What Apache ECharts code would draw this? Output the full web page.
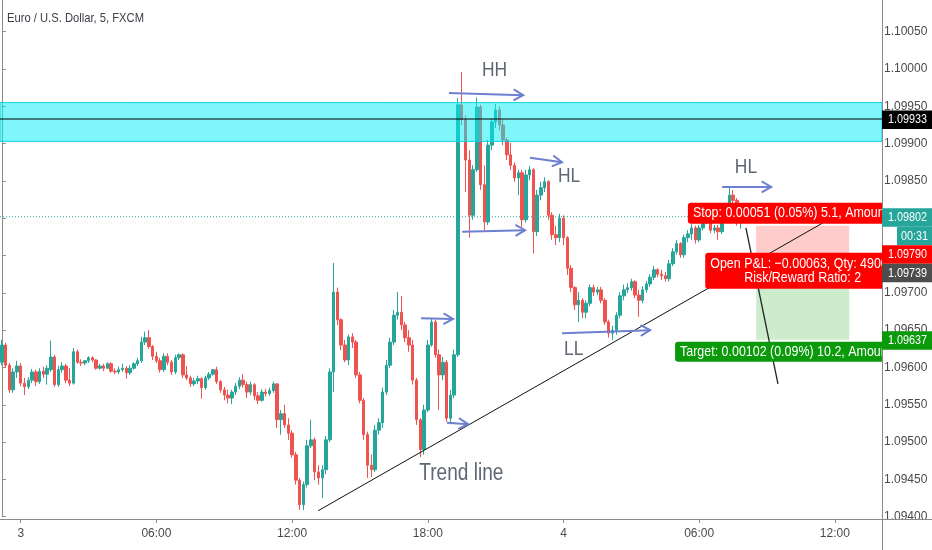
<!DOCTYPE html>
<html>
<head>
<meta charset="utf-8">
<script src="https://cdn.jsdelivr.net/npm/echarts@6/dist/echarts.min.js"></script>
<style>
html,body{margin:0;padding:0;background:#ffffff;overflow:hidden}
#chart{width:932px;height:550px}
</style>
</head>
<body>
<div id="chart"></div>
<script>
// ---------------- data ----------------
const chartTitle = 'Euro / U.S. Dollar, 5, FXCM';
const firstBarDay = 2;
const firstBarMinute = 23 * 60 + 10;
const barMinutes = 10;
const totalBars = 234;
const tickTimes = ['00:00', '06:00', '12:00', '18:00'];

const openPrices = [
1.09607,1.09630,1.09603,1.09570,1.09594,1.09602,1.09579,1.09574,1.09583,1.09594,
1.09581,1.09595,1.09591,1.09597,1.09614,1.09577,1.09597,1.09602,1.09583,1.09579,
1.09621,1.09607,1.09606,1.09609,1.09613,1.09610,1.09599,1.09602,1.09599,1.09605,
1.09595,1.09594,1.09597,1.09599,1.09593,1.09599,1.09605,1.09609,1.09634,1.09640,
1.09628,1.09615,1.09609,1.09597,1.09615,1.09607,1.09594,1.09613,1.09617,1.09590,
1.09586,1.09578,1.09582,1.09585,1.09573,1.09586,1.09591,1.09597,1.09581,1.09570,
1.09563,1.09559,1.09567,1.09575,1.09583,1.09577,1.09567,1.09577,1.09562,1.09556,
1.09567,1.09565,1.09569,1.09578,1.09530,1.09538,1.09523,1.09512,1.09483,1.09449,
1.09416,1.09443,1.09495,1.09503,1.09460,1.09452,1.09463,1.09503,1.09594,1.09701,
1.09664,1.09630,1.09610,1.09641,1.09634,1.09590,1.09556,1.09510,1.09469,1.09463,
1.09516,1.09526,1.09567,1.09603,1.09634,1.09670,1.09674,1.09657,1.09640,1.09630,
1.09583,1.09530,1.09490,1.09543,1.09630,1.09661,1.09617,1.09590,1.09607,1.09532,
1.09563,1.09617,1.09952,1.09932,1.09878,1.09804,1.09865,1.09949,1.09845,1.09795,
1.09898,1.09929,1.09945,1.09925,1.09905,1.09885,1.09871,1.09854,1.09861,1.09798,
1.09858,1.09865,1.09782,1.09831,1.09841,1.09849,1.09804,1.09778,1.09774,1.09800,
1.09774,1.09733,1.09707,1.09684,1.09690,1.09674,1.09686,1.09707,1.09701,1.09704,
1.09690,1.09661,1.09646,1.09650,1.09670,1.09696,1.09704,1.09707,1.09715,1.09697,
1.09690,1.09704,1.09712,1.09721,1.09731,1.09725,1.09723,1.09719,1.09739,1.09755,
1.09766,1.09751,1.09774,1.09779,1.09787,1.09771,1.09787,1.09796,1.09800,1.09784,
1.09787,1.09782,1.09798,1.09815,1.09831,1.09824,1.09795];

const closePrices = [
1.09630,1.09603,1.09570,1.09594,1.09602,1.09579,1.09574,1.09583,1.09594,1.09581,
1.09595,1.09591,1.09599,1.09614,1.09577,1.09597,1.09602,1.09583,1.09579,1.09621,
1.09607,1.09606,1.09609,1.09613,1.09610,1.09599,1.09602,1.09599,1.09605,1.09595,
1.09594,1.09597,1.09599,1.09593,1.09599,1.09605,1.09609,1.09634,1.09640,1.09628,
1.09615,1.09609,1.09597,1.09615,1.09607,1.09594,1.09613,1.09617,1.09590,1.09586,
1.09578,1.09582,1.09585,1.09573,1.09586,1.09591,1.09597,1.09581,1.09570,1.09563,
1.09559,1.09567,1.09575,1.09583,1.09577,1.09567,1.09577,1.09562,1.09556,1.09567,
1.09565,1.09569,1.09578,1.09530,1.09538,1.09523,1.09512,1.09483,1.09449,1.09416,
1.09443,1.09495,1.09503,1.09460,1.09452,1.09463,1.09503,1.09594,1.09701,1.09664,
1.09630,1.09610,1.09641,1.09634,1.09590,1.09556,1.09510,1.09469,1.09463,1.09516,
1.09526,1.09567,1.09603,1.09634,1.09670,1.09674,1.09657,1.09640,1.09630,1.09583,
1.09530,1.09490,1.09543,1.09630,1.09661,1.09617,1.09590,1.09607,1.09532,1.09563,
1.09617,1.09952,1.09932,1.09878,1.09804,1.09865,1.09949,1.09845,1.09795,1.09898,
1.09929,1.09945,1.09925,1.09905,1.09885,1.09871,1.09854,1.09861,1.09798,1.09858,
1.09865,1.09782,1.09831,1.09841,1.09849,1.09804,1.09778,1.09774,1.09800,1.09774,
1.09733,1.09707,1.09684,1.09690,1.09674,1.09686,1.09707,1.09701,1.09704,1.09690,
1.09661,1.09646,1.09650,1.09670,1.09696,1.09704,1.09707,1.09715,1.09697,1.09690,
1.09704,1.09712,1.09721,1.09731,1.09725,1.09723,1.09719,1.09739,1.09755,1.09766,
1.09751,1.09774,1.09779,1.09787,1.09771,1.09787,1.09796,1.09800,1.09784,1.09787,
1.09782,1.09798,1.09815,1.09831,1.09824,1.09795,1.09802];

const lowPrices = [
1.09603,1.09599,1.09566,1.09566,1.09586,1.09575,1.09563,1.09571,1.09579,1.09575,
1.09578,1.09586,1.09577,1.09594,1.09574,1.09574,1.09593,1.09579,1.09575,1.09577,
1.09605,1.09602,1.09603,1.09606,1.09607,1.09597,1.09597,1.09595,1.09598,1.09593,
1.09591,1.09591,1.09594,1.09585,1.09590,1.09597,1.09602,1.09606,1.09630,1.09625,
1.09610,1.09606,1.09593,1.09594,1.09603,1.09590,1.09591,1.09610,1.09586,1.09583,
1.09574,1.09575,1.09578,1.09558,1.09570,1.09583,1.09589,1.09578,1.09566,1.09556,
1.09552,1.09551,1.09563,1.09571,1.09573,1.09559,1.09563,1.09556,1.09551,1.09554,
1.09561,1.09562,1.09566,1.09519,1.09510,1.09519,1.09503,1.09479,1.09443,1.09409,
1.09409,1.09439,1.09492,1.09449,1.09443,1.09425,1.09457,1.09500,1.09567,1.09657,
1.09623,1.09607,1.09603,1.09626,1.09586,1.09552,1.09503,1.09452,1.09453,1.09460,
1.09510,1.09519,1.09563,1.09599,1.09630,1.09664,1.09650,1.09634,1.09621,1.09577,
1.09523,1.09480,1.09483,1.09540,1.09628,1.09613,1.09543,1.09583,1.09527,1.09524,
1.09559,1.09614,1.09925,1.09835,1.09774,1.09798,1.09862,1.09838,1.09784,1.09791,
1.09891,1.09921,1.09918,1.09898,1.09878,1.09865,1.09849,1.09831,1.09788,1.09794,
1.09851,1.09753,1.09776,1.09824,1.09835,1.09798,1.09771,1.09764,1.09768,1.09764,
1.09724,1.09701,1.09677,1.09661,1.09666,1.09666,1.09682,1.09696,1.09697,1.09686,
1.09657,1.09640,1.09637,1.09644,1.09666,1.09690,1.09700,1.09703,1.09693,1.09668,
1.09686,1.09700,1.09708,1.09717,1.09721,1.09717,1.09715,1.09715,1.09736,1.09751,
1.09747,1.09747,1.09768,1.09771,1.09766,1.09768,1.09784,1.09792,1.09780,1.09780,
1.09771,1.09779,1.09795,1.09812,1.09818,1.09790,1.09786];

const highPrices = [
1.09637,1.09633,1.09606,1.09599,1.09609,1.09606,1.09586,1.09587,1.09598,1.09597,
1.09599,1.09601,1.09603,1.09636,1.09617,1.09602,1.09607,1.09605,1.09599,1.09626,
1.09624,1.09611,1.09610,1.09615,1.09615,1.09611,1.09605,1.09605,1.09607,1.09607,
1.09599,1.09601,1.09605,1.09602,1.09603,1.09607,1.09613,1.09641,1.09648,1.09650,
1.09630,1.09621,1.09613,1.09619,1.09619,1.09610,1.09617,1.09619,1.09619,1.09602,
1.09589,1.09586,1.09589,1.09587,1.09589,1.09594,1.09598,1.09601,1.09583,1.09574,
1.09570,1.09570,1.09579,1.09587,1.09591,1.09581,1.09581,1.09579,1.09567,1.09571,
1.09571,1.09573,1.09581,1.09579,1.09543,1.09550,1.09532,1.09516,1.09487,1.09452,
1.09447,1.09503,1.09530,1.09506,1.09469,1.09469,1.09508,1.09599,1.09740,1.09707,
1.09666,1.09637,1.09644,1.09646,1.09637,1.09594,1.09559,1.09514,1.09483,1.09523,
1.09532,1.09573,1.09610,1.09640,1.09677,1.09701,1.09696,1.09661,1.09650,1.09637,
1.09586,1.09532,1.09550,1.09637,1.09666,1.09664,1.09624,1.09614,1.09610,1.09570,
1.09624,1.09961,1.09996,1.09938,1.09891,1.09871,1.09962,1.09952,1.09871,1.09905,
1.09934,1.09953,1.09950,1.09932,1.09908,1.09901,1.09875,1.09865,1.09865,1.09865,
1.09870,1.09867,1.09838,1.09849,1.09855,1.09851,1.09808,1.09790,1.09806,1.09804,
1.09776,1.09737,1.09709,1.09701,1.09693,1.09690,1.09711,1.09711,1.09708,1.09708,
1.09693,1.09664,1.09656,1.09674,1.09701,1.09711,1.09713,1.09719,1.09717,1.09704,
1.09709,1.09716,1.09725,1.09736,1.09733,1.09731,1.09728,1.09744,1.09760,1.09771,
1.09768,1.09778,1.09784,1.09792,1.09790,1.09791,1.09800,1.09806,1.09803,1.09791,
1.09791,1.09802,1.09819,1.09842,1.09838,1.09827,1.09806];

// horizontal levels
const zoneTop = 1.09955;
const zoneBottom = 1.09903;
const levelLine = 1.09933;
const lastPrice = 1.09802;
const countdownText = '00:31';

// position tool
const entryPrice = 1.09739;
const stopPrice = 1.09790;
const targetPrice = 1.09637;
const positionBars = [200.1, 224.8];
const stopText = 'Stop: 0.00051 (0.05%) 5.1, Amount: 1000';
const pnlText = 'Open P&L: \u22120.00063, Qty: 4900';
const ratioText = 'Risk/Reward Ratio: 2';
const targetText = 'Target: 0.00102 (0.09%) 10.2, Amount: 1000';
const labelLeftBars = [182.0, 186.6, 178.6];

// drawn lines (bar index, price)
const trendBars = [83.9, 217.9];
const trendPrices = [1.09408, 1.09794];
const projectionBars = [197.4, 205.9];
const projectionPrices = [1.09787, 1.09578];

// arrows
const arrowFromBars = [118.6, 140.1, 122.1, 111.2, 118.1, 148.6, 191.1];
const arrowFromPrices = [1.09968, 1.09881, 1.09782, 1.09666, 1.09526, 1.09646, 1.09842];
const arrowToBars = [138.3, 148.6, 138.8, 119.7, 123.7, 172.0, 204.1];
const arrowToPrices = [1.09965, 1.09875, 1.09784, 1.09665, 1.09524, 1.09650, 1.09842];

// text notes
const noteTexts = ['HH', 'HL', 'LL', 'HL', 'Trend line'];
const noteBars = [130.7, 150.5, 151.7, 197.4, 121.9];
const notePrices = [1.09998, 1.09856, 1.09624, 1.09868, 1.09458];

// ---------------- styles ----------------
const FONT = "'Liberation Sans','Arial',sans-serif";
const NARROW = 0.83;               // horizontal squeeze of the source screenshot's lettering
const UP = '#26a69a', DOWN = '#ef5350';
const AXIS_COLOR = '#8a8a8a';
const LABEL_COLOR = '#4a4a4a';
const ARROW_COLOR = '#6d7fd0';
const NOTE_COLOR = '#5f6775';
const noteFontSizes = [21, 21, 21, 21, 23];

// ---------------- build ----------------
const pad2 = n => String(n).padStart(2, '0');
const categories = [];
for (let i = 0; i < totalBars; i++) {
  const m = firstBarMinute + i * barMinutes;
  const day = firstBarDay + Math.floor(m / 1440);
  const mm = m % 1440;
  categories.push(day + ' ' + pad2(Math.floor(mm / 60)) + ':' + pad2(mm % 60));
}
const isTick = (idx, val) => tickTimes.indexOf(String(val).split(' ')[1]) >= 0;
const fmtTick = val => { const parts = String(val).split(' '); return parts[1] === '00:00' ? parts[0] : parts[1]; };

const candles = openPrices.map((o, i) => [o, closePrices[i], lowPrices[i], highPrices[i]]);

const chart = echarts.init(document.getElementById('chart'), null, { renderer: 'canvas' });

function rectRender(fills, strokes) {
  return function (params, api) {
    const a = api.coord([api.value(0), api.value(2)]);
    const b = api.coord([api.value(1), api.value(3)]);
    return {
      type: 'rect',
      shape: { x: a[0], y: a[1], width: b[0] - a[0], height: b[1] - a[1] },
      style: { fill: fills[params.dataIndex], stroke: strokes ? strokes[params.dataIndex] : null, lineWidth: 1 }
    };
  };
}

function textEl(x, y, text, font, fill, align) {
  return {
    type: 'text', x: x, y: y, scaleX: NARROW, scaleY: 1,
    style: { text: text, fill: fill, font: font, align: align, verticalAlign: 'middle', textAlign: align, textVerticalAlign: 'middle' }
  };
}

const labelDefs = [
  { price: stopPrice, bg: '#ff0000', top: -23, h: 21 },
  { price: entryPrice, bg: '#ff0000', top: -11, h: 36 },
  { price: targetPrice, bg: '#0a9a0a', top: 2, h: 20 }
];
const labelTexts = [[stopText], [pnlText, ratioText], [targetText]];
const positionCenterBar = (positionBars[0] + positionBars[1]) / 2;

const option = {
  animation: false,
  backgroundColor: '#ffffff',
  grid: { left: 0, right: 50, top: -5.6, bottom: 33.3, containLabel: false, outerBoundsMode: 'none' },
  xAxis: [
    {
      type: 'category', data: categories, boundaryGap: true, position: 'bottom', offset: 2.3,
      axisLine: { show: true, lineStyle: { color: AXIS_COLOR, width: 1 } },
      axisTick: { show: true, alignWithLabel: true, length: 4, interval: isTick, lineStyle: { color: AXIS_COLOR } },
      axisLabel: { interval: isTick, formatter: fmtTick, color: LABEL_COLOR, fontFamily: FONT, fontSize: 12, margin: 9, hideOverlap: false },
      splitLine: { show: false }
    },
    { type: 'value', min: -0.5, max: totalBars - 0.5, show: false, position: 'top' }
  ],
  yAxis: {
    type: 'value', position: 'right', min: 1.094, max: 1.101, interval: 0.0005, scale: true,
    axisLine: { show: true, lineStyle: { color: AXIS_COLOR, width: 1 } },
    axisTick: { show: true, length: 4, inside: false, lineStyle: { color: AXIS_COLOR } },
    axisLabel: { formatter: v => v.toFixed(5), color: LABEL_COLOR, fontFamily: FONT, fontSize: 12, margin: 2, showMaxLabel: false, showMinLabel: true, hideOverlap: false },
    splitLine: { show: false }
  },
  series: [
    { // last price dotted line
      type: 'line', xAxisIndex: 1, yAxisIndex: 0, z: 1, silent: true, symbol: 'none',
      data: [[-0.5, lastPrice], [totalBars - 0.5, lastPrice]],
      lineStyle: { color: UP, width: 1, type: [1, 2] }
    },
    { // position zones
      type: 'custom', xAxisIndex: 1, yAxisIndex: 0, z: 2, silent: true, clip: true,
      data: [[positionBars[0], positionBars[1], stopPrice, entryPrice], [positionBars[0], positionBars[1], entryPrice, targetPrice]],
      renderItem: rectRender(['rgba(255,0,0,0.2)', 'rgba(0,160,0,0.2)'])
    },
    {
      type: 'candlestick', xAxisIndex: 0, yAxisIndex: 0, z: 3, data: candles, barWidth: '80%',
      itemStyle: { color: UP, color0: DOWN, borderColor: UP, borderColor0: DOWN, borderWidth: 1 }
    },
    { // supply zone
      type: 'custom', xAxisIndex: 1, yAxisIndex: 0, z: 4, silent: true, clip: true,
      data: [[-0.5, totalBars - 0.5, zoneTop, zoneBottom]],
      renderItem: rectRender(['rgba(0,240,245,0.5)'], ['rgba(0,205,225,0.9)'])
    },
    { // level line
      type: 'line', xAxisIndex: 1, yAxisIndex: 0, z: 5, silent: true, symbol: 'none',
      data: [[-0.5, levelLine], [totalBars - 0.5, levelLine]],
      lineStyle: { color: '#000000', width: 1 }
    },
    { // trend line
      type: 'line', xAxisIndex: 1, yAxisIndex: 0, z: 6, silent: true, symbol: 'none',
      data: trendBars.map((b, i) => [b, trendPrices[i]]),
      lineStyle: { color: '#111111', width: 1 }
    },
    { // projection line
      type: 'line', xAxisIndex: 1, yAxisIndex: 0, z: 6, silent: true, symbol: 'none',
      data: projectionBars.map((b, i) => [b, projectionPrices[i]]),
      lineStyle: { color: '#222222', width: 1.3 }
    },
    { // arrows
      type: 'custom', xAxisIndex: 1, yAxisIndex: 0, z: 7, silent: true,
      data: arrowFromBars.map((b, i) => [b, arrowFromPrices[i], arrowToBars[i], arrowToPrices[i]]),
      renderItem: function (params, api) {
        const p1 = api.coord([api.value(0), api.value(1)]);
        const p2 = api.coord([api.value(2), api.value(3)]);
        const ang = Math.atan2(p2[1] - p1[1], p2[0] - p1[0]);
        const L = 11, A = 0.52;
        const h1 = [p2[0] - L * Math.cos(ang - A), p2[1] - L * Math.sin(ang - A)];
        const h2 = [p2[0] - L * Math.cos(ang + A), p2[1] - L * Math.sin(ang + A)];
        return {
          type: 'group', children: [
            { type: 'line', shape: { x1: p1[0], y1: p1[1], x2: p2[0], y2: p2[1] }, style: { stroke: ARROW_COLOR, lineWidth: 2 } },
            { type: 'polyline', shape: { points: [h1, p2, h2] }, style: { stroke: ARROW_COLOR, lineWidth: 2, fill: null } }
          ]
        };
      }
    },
    { // notes
      type: 'custom', xAxisIndex: 1, yAxisIndex: 0, z: 7, silent: true,
      data: noteBars.map((b, i) => [b, notePrices[i]]),
      renderItem: function (params, api) {
        const p = api.coord([api.value(0), api.value(1)]);
        const i = params.dataIndex;
        return textEl(p[0], p[1], noteTexts[i], noteFontSizes[i] + 'px ' + FONT, NOTE_COLOR, 'center');
      }
    },
    { // position labels
      type: 'custom', xAxisIndex: 1, yAxisIndex: 0, z: 9, silent: true, clip: true,
      data: labelDefs.map((d, i) => [labelLeftBars[i], d.price]),
      renderItem: function (params, api) {
        const i = params.dataIndex;
        const d = labelDefs[i];
        const p = api.coord([api.value(0), api.value(1)]);
        const top = p[1] + d.top;
        const children = [
          { type: 'rect', shape: { x: p[0], y: top, width: 300, height: d.h, r: 3 }, style: { fill: d.bg } }
        ];
        const lines = labelTexts[i];
        const f = '15px ' + FONT;
        if (lines.length === 1) {
          children.push(textEl(p[0] + 5, top + d.h / 2, lines[0], f, '#ffffff', 'left'));
        } else {
          const cx = api.coord([positionCenterBar, d.price])[0];
          children.push(textEl(p[0] + 5, top + 11, lines[0], f, '#ffffff', 'left'));
          children.push(textEl(cx, top + 25, lines[1], f, '#ffffff', 'center'));
        }
        return { type: 'group', children: children };
      }
    }
  ]
};

chart.setOption(option);

// ---------- price tags on the axis ----------
const gridRight = 932 - 50;
const axisTags = [
  { price: levelLine, bg: '#000000' },
  { price: lastPrice, bg: UP, sub: countdownText },
  { price: stopPrice, bg: '#ff0000' },
  { price: entryPrice, bg: '#4d4d4d' },
  { price: targetPrice, bg: '#0a9a0a' }
];
const TAG_H = 18.5;
let cursor = -Infinity;
const graphics = [];
const tagFont = '13px ' + FONT;
axisTags.forEach(tag => {
  const y = chart.convertToPixel({ yAxisIndex: 0 }, tag.price);
  let top = Math.max(y - 8.5, cursor);
  graphics.push({ type: 'rect', z: 100, shape: { x: gridRight, y: top, width: 50, height: TAG_H }, style: { fill: tag.bg } });
  graphics.push(Object.assign(textEl(gridRight + 6, top + TAG_H / 2, tag.price.toFixed(5), tagFont, '#ffffff', 'left'), { z: 101 }));
  cursor = top + TAG_H;
  if (tag.sub) {
    graphics.push({ type: 'rect', z: 100, shape: { x: gridRight + 15, y: cursor, width: 35, height: TAG_H }, style: { fill: tag.bg } });
    graphics.push(Object.assign(textEl(gridRight + 32.5, cursor + TAG_H / 2, tag.sub, tagFont, '#ffffff', 'center'), { z: 101 }));
    cursor += TAG_H;
  }
});
// axis lines extended through the corner
graphics.push({ type: 'line', z: 99, shape: { x1: gridRight + 0.5, y1: 0, x2: gridRight + 0.5, y2: 550 }, style: { stroke: AXIS_COLOR, lineWidth: 1 } });
graphics.push({ type: 'line', z: 99, shape: { x1: 0, y1: 519.5, x2: 932, y2: 519.5 }, style: { stroke: AXIS_COLOR, lineWidth: 1 } });
// title
graphics.push(Object.assign(textEl(7, 18, chartTitle, '13.5px ' + FONT, '#3c3f46', 'left'), { z: 101 }));

chart.setOption({ graphic: graphics });
</script>
</body>
</html>
